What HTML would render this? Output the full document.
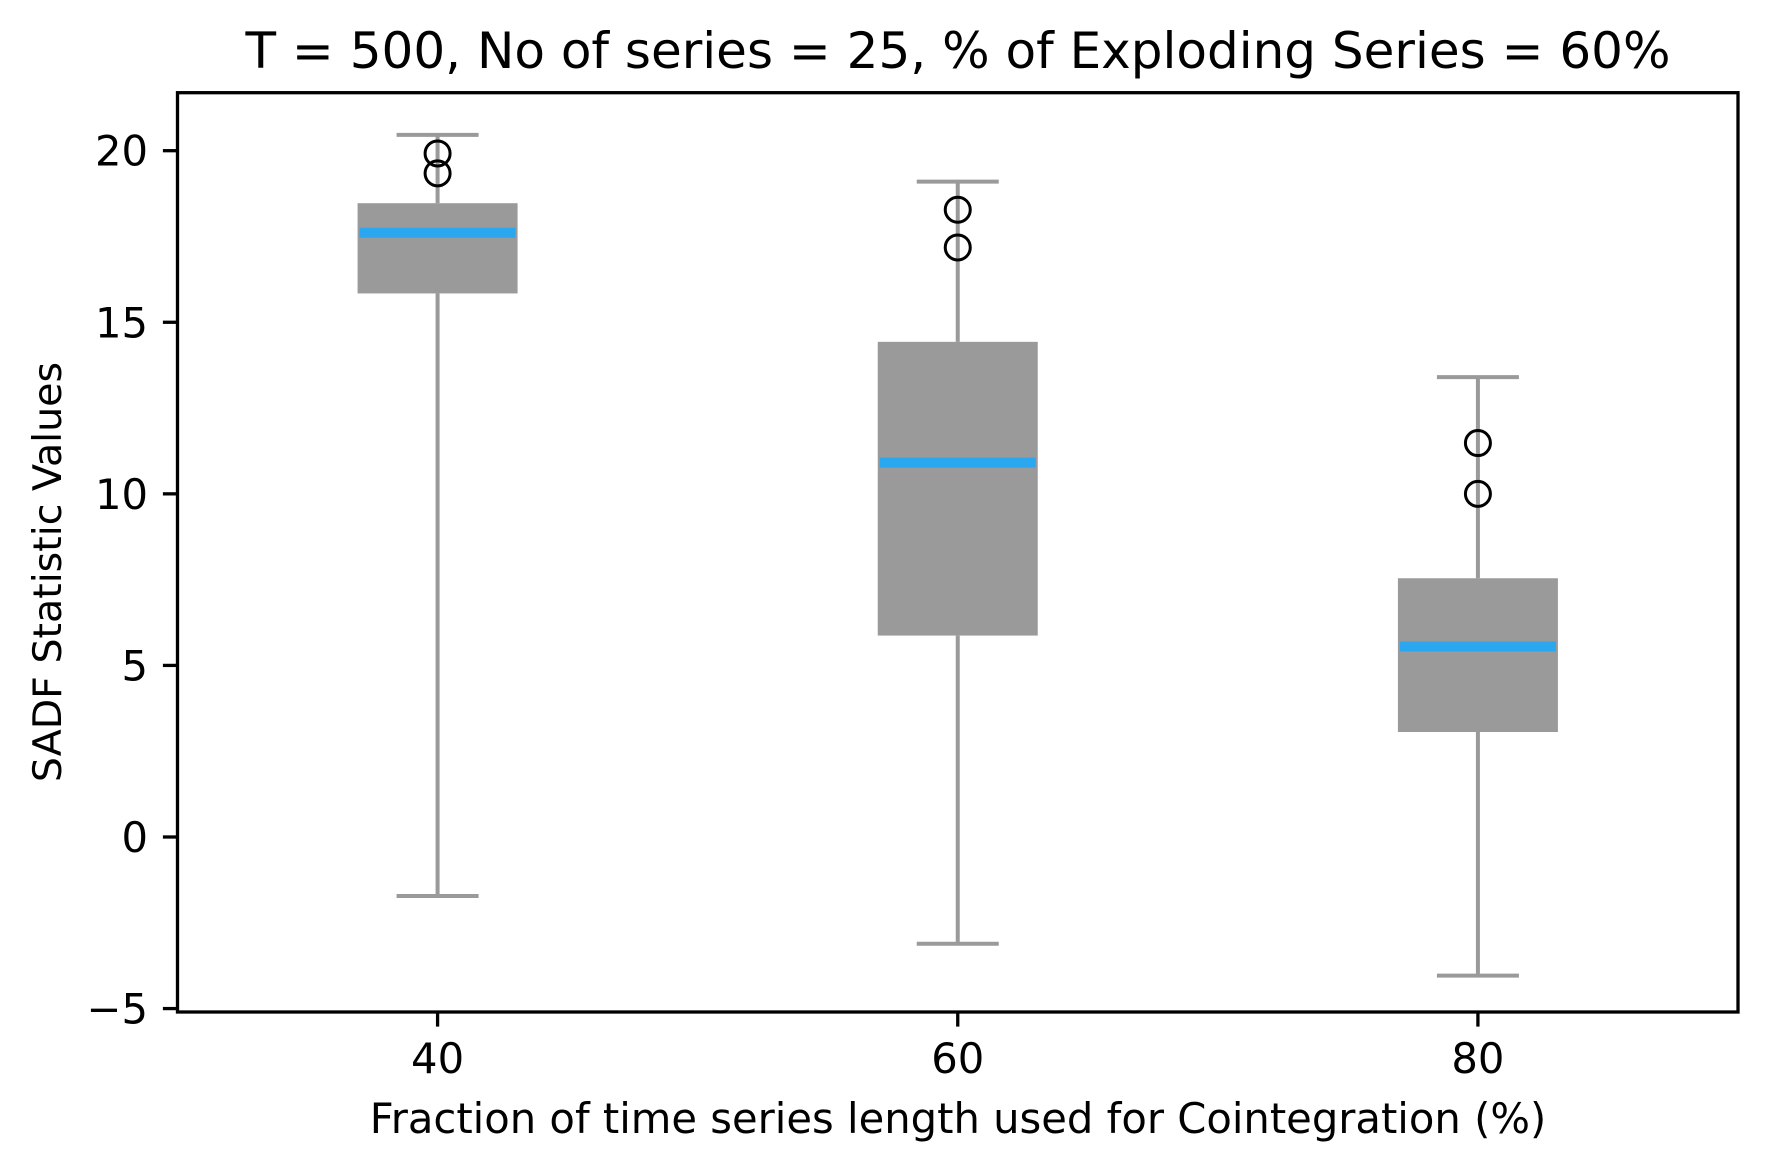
<!DOCTYPE html>
<html><head><meta charset="utf-8"><style>
body{margin:0;background:#fff}
svg text{font-family:"DejaVu Sans","Liberation Sans",sans-serif;fill:#000}
</style></head><body>
<svg id="chart" width="1767" height="1168" viewBox="0 0 1767 1168" xmlns="http://www.w3.org/2000/svg">
<rect width="1767" height="1168" fill="#fff"/>
<g id="plot"></g>
<text x="958" y="68" font-size="50" text-anchor="middle">T = 500, No of series = 25, % of Exploding Series = 60%</text>
<text x="958" y="1133" font-size="41.7" text-anchor="middle">Fraction of time series length used for Cointegration (%)</text>
<text transform="translate(61,572) rotate(-90)" font-size="39.5" text-anchor="middle">SADF Statistic Values</text>
</svg>
<script>
const categories = [40, 60, 80];
const whiskerLow = [-1.72, -3.11, -4.04];
const q1 = [15.84, 5.87, 3.06];
const median = [17.61, 10.91, 5.55];
const q3 = [18.47, 14.43, 7.54];
const whiskerHigh = [20.46, 19.1, 13.4];
const outliers = [[19.92, 19.34], [18.28, 17.18], [11.48, 10.0]];
const yTicks = [-5, 0, 5, 10, 15, 20];
const yTickLabels = ["\u22125", "0", "5", "10", "15", "20"];

const L = 177.5, R = 1738, T = 92.7, B = 1012;
const xMin = 30, xMax = 90, yMin = -5.1, yMax = 21.69;
const xs = v => L + (v - xMin) / (xMax - xMin) * (R - L);
const ys = v => B - (v - yMin) / (yMax - yMin) * (B - T);
const NS = "http://www.w3.org/2000/svg";
const g = document.getElementById('plot');
function mk(tag, attrs, parent) {
  const e = document.createElementNS(NS, tag);
  for (const k in attrs) e.setAttribute(k, attrs[k]);
  (parent || g).appendChild(e);
  return e;
}
const boxHalf = 80, capHalf = 41, gray = "#9a9a9a";
categories.forEach((c, i) => {
  const grp = mk('g', {});
  
  
  const cx = xs(c);
  const w1 = mk('line', {x1: cx, x2: cx, y1: ys(whiskerLow[i]), y2: ys(q1[i]), stroke: gray, 'stroke-width': 4}, grp);
  
  
  const w2 = mk('line', {x1: cx, x2: cx, y1: ys(q3[i]), y2: ys(whiskerHigh[i]), stroke: gray, 'stroke-width': 4}, grp);
  
  
  [whiskerLow[i], whiskerHigh[i]].forEach(v => {
    const cap = mk('line', {x1: cx - capHalf, x2: cx + capHalf, y1: ys(v), y2: ys(v), stroke: gray, 'stroke-width': 4}, grp);
    
    
  });
  const box = mk('rect', {x: cx - boxHalf, y: ys(q3[i]), width: 2 * boxHalf, height: ys(q1[i]) - ys(q3[i]), fill: gray}, grp);
  
  
  const med = mk('line', {x1: cx - boxHalf + 2, x2: cx + boxHalf - 2, y1: ys(median[i]), y2: ys(median[i]), stroke: "#2aa7ef", 'stroke-width': 10}, grp);
  
  
  outliers[i].forEach(v => {
    const o = mk('circle', {cx: cx, cy: ys(v), r: 12.5, fill: "none", stroke: "#000", 'stroke-width': 3}, grp);
    
    
  });
  const t = mk('line', {x1: cx, x2: cx, y1: B, y2: B + 14.6, stroke: "#000", 'stroke-width': 3.3});
  
  
  const tl = mk('text', {x: cx, y: 1073, 'font-size': 41.7, 'text-anchor': 'middle'});
  tl.textContent = c;
  
  
});
yTicks.forEach((v, i) => {
  const t = mk('line', {x1: L - 14.6, x2: L, y1: ys(v), y2: ys(v), stroke: "#000", 'stroke-width': 3.3});
  
  
  const tl = mk('text', {x: 148, y: ys(v) + 15, 'font-size': 41.7, 'text-anchor': 'end'});
  tl.textContent = yTickLabels[i];
  
  
});
const frame = mk('rect', {x: L, y: T, width: R - L, height: B - T, fill: "none", stroke: "#000", 'stroke-width': 3.3});


</script>
</body></html>
